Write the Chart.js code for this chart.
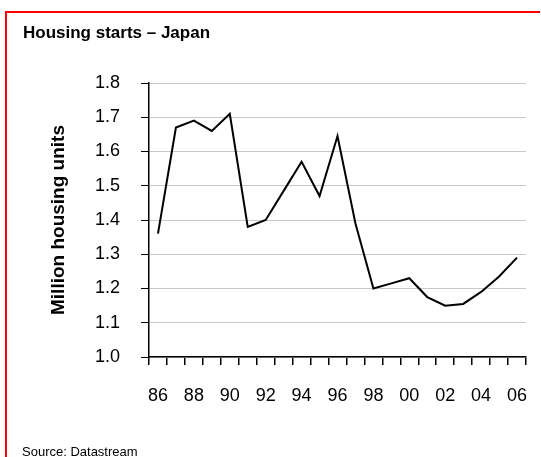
<!DOCTYPE html>
<html>
<head>
<meta charset="utf-8">
<script src="https://cdn.jsdelivr.net/npm/chart.js@4.4.1/dist/chart.umd.min.js"></script>
<style>
  html, body { margin: 0; padding: 0; background: #fff; overflow: hidden; }
  body { width: 541px; height: 457px; position: relative; font-family: "Liberation Sans", Arial, sans-serif; }
  #title { position: absolute; left: 23px; top: 24px; font-size: 17px; line-height: 17px; font-weight: bold; color: #000; }
  #source { position: absolute; left: 22px; top: 445px; font-size: 13px; line-height: 13px; color: #000; white-space: nowrap; }
  #wrap { position: absolute; left: 0; top: 0; width: 541px; height: 457px; }
  canvas { display: block; }
</style>
</head>
<body>
<div id="wrap"><canvas id="chart" width="541" height="457"></canvas></div>
<div id="title">Housing starts – Japan</div>
<div id="source">Source: Datastream</div>
<script>
const years = ["86", "87", "88", "89", "90", "91", "92", "93", "94", "95", "96",
               "97", "98", "99", "00", "01", "02", "03", "04", "05", "06"];
const starts = [1.36, 1.67, 1.69, 1.66, 1.71, 1.38, 1.40, 1.485, 1.57, 1.47, 1.645,
                1.39, 1.20, 1.215, 1.23, 1.175, 1.15, 1.155, 1.19, 1.235, 1.29];
const yTicks = [1.0, 1.1, 1.2, 1.3, 1.4, 1.5, 1.6, 1.7, 1.8];

const tickFont = { family: "'Liberation Sans', Arial, sans-serif", size: 18 };

// red frame (left and top edges only)
const framePlugin = {
  id: "frame",
  beforeDraw(chart) {
    const ctx = chart.ctx;
    ctx.save();
    ctx.fillStyle = "#ff0000";
    ctx.fillRect(5, 11, 2, 446);
    ctx.fillRect(5, 11, 535, 2);
    ctx.restore();
  }
};

new Chart(document.getElementById("chart").getContext("2d"), {
  type: "line",
  data: {
    labels: years,
    datasets: [{
      data: starts,
      borderColor: "#000",
      borderWidth: 2,
      pointRadius: 0,
      tension: 0,
      fill: false
    }]
  },
  plugins: [framePlugin],
  options: {
    responsive: false,
    animation: false,
    plugins: { legend: { display: false }, tooltip: { enabled: false } },
    layout: { padding: { left: 0, top: 83, right: 15, bottom: 0 } },
    scales: {
      x: {
        type: "category",
        offset: true,
        grid: { offset: true, drawOnChartArea: false, color: "#000", tickColor: "#000", tickLength: 8, lineWidth: 1.5 },
        border: { color: "#000", width: 1.5 },
        ticks: {
          autoSkip: false,
          maxRotation: 0,
          padding: 20,
          color: "#000",
          font: tickFont,
          callback: (v, i) => (i % 2 === 0 ? years[i] : "")
        },
        afterFit: (s) => { s.height = 100; s.paddingLeft = 0; s.paddingRight = 0; }
      },
      y: {
        min: 1.0,
        max: 1.8,
        afterBuildTicks: (s) => { s.ticks = yTicks.map(v => ({ value: v })); },
        grid: { color: "#c8c8c8", tickColor: "#000", tickLength: 8, lineWidth: 1 },
        border: { color: "#000", width: 1.5 },
        ticks: {
          padding: 21,
          color: "#000",
          font: tickFont,
          callback: (v) => v.toFixed(1)
        },
        title: {
          display: true,
          text: "Million housing units",
          color: "#000",
          font: { family: "'Liberation Sans', Arial, sans-serif", size: 19, weight: "bold" },
          padding: { top: 47, bottom: 0 }
        },
        afterFit: (s) => { s.width = 149; s.paddingTop = 0; s.paddingBottom = 0; }
      }
    }
  }
});
</script>
</body>
</html>
